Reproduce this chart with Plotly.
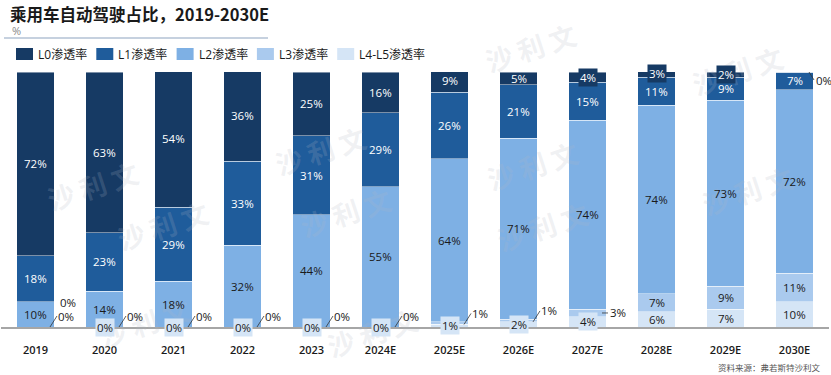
import plotly.graph_objects as go

years = ["2019", "2020", "2021", "2022", "2023", "2024E", "2025E", "2026E", "2027E", "2028E", "2029E", "2030E"]
l0 = [72, 63, 54, 36, 25, 16, 9, 5, 4, 3, 2, 0]
l1 = [18, 23, 29, 33, 31, 29, 26, 21, 15, 11, 9, 7]
l2 = [10, 14, 18, 32, 44, 55, 64, 71, 74, 74, 73, 72]
l3 = [0, 0, 0, 0, 0, 0, 1, 1, 3, 7, 9, 11]
l4 = [0, 0, 0, 0, 0, 0, 1, 2, 4, 6, 7, 10]
names = ["L0渗透率", "L1渗透率", "L2渗透率", "L3渗透率", "L4-L5渗透率"]
title_text = "乘用车自动驾驶占比，2019-2030E"
unit_text = "%"
source_text = "资料来源：弗若斯特沙利文"
watermark_text = "沙 利 文"

colors = ["#163A64", "#1F5C9B", "#7EB0E4", "#AACAEE", "#D5E5F6"]
FONT = "Open Sans, Noto Sans CJK SC, sans-serif"
DARK = "#1A1A1A"

series = [l0, l1, l2, l3, l4]
fig = go.Figure()
# stack bottom-up: L4, L3, L2, L1, L0
for k in [4, 3, 2, 1, 0]:
    fig.add_trace(go.Bar(
        x=years, y=series[k], name=names[k], showlegend=False,
        marker=dict(color=colors[k], line=dict(color="rgba(255,255,255,0.55)", width=0.8)),
        hoverinfo="skip",
    ))

# cumulative bases
bases = {}
for i in range(len(years)):
    b = 0
    for k in [4, 3, 2, 1, 0]:
        bases[(k, i)] = b
        b += series[k][i]

ann = []
shapes = []
LBL = 11.5
TIP = 14.5

W, H = 831, 375
L, R, T, B = 1, 2, 72, 48
pw, ph = W - L - R, H - T - B


def px(x):
    return (x - L) / pw


def py(y):
    return (H - B - y) / ph


# faint watermarks (decoration)
for (wx, wy) in [(530, 12), (790, 35), (40, 150), (320, 115), (110, 225), (345, 248), (585, 130),
                 (595, 262), (800, 155), (92, 358), (372, 368)]:
    ann.append(dict(xref="paper", yref="paper", x=px(wx), y=py(wy), text=watermark_text, showarrow=False,
                    textangle=-18, font=dict(family="Noto Sans CJK SC", size=27, color="rgba(175,182,196,0.2)",
                                             weight="bold")))

# legend (drawn manually to match the swatch spacing)
for k, nm in enumerate(names):
    x0 = 16 + 80.3 * k
    shapes.append(dict(type="rect", xref="paper", yref="paper", x0=px(x0), x1=px(x0 + 17),
                       y0=py(60), y1=py(48), fillcolor=colors[k], line=dict(width=0)))
    ann.append(dict(xref="paper", yref="paper", x=px(x0 + 20), y=py(54), text=nm, showarrow=False,
                    xanchor="left", yanchor="middle", font=dict(family=FONT, size=12, color="#1A1A1A")))


def inside(i, k, color, bg=None):
    v = series[k][i]
    d = dict(x=i, y=bases[(k, i)] + v / 2, text=f"{v}%", showarrow=False,
             font=dict(family=FONT, size=LBL, color=color), xanchor="center", yanchor="middle")
    if bg:
        d.update(bgcolor=bg, borderpad=1)
    ann.append(d)


for i in range(len(years)):
    # L0
    v = l0[i]
    if v >= 5:
        inside(i, 0, "white")
    elif v > 0:
        inside(i, 0, "white", bg=colors[0])
    else:
        ann.append(dict(x=i, y=bases[(0, i)], xshift=TIP, text=f"{v}%", showarrow=True,
                        arrowhead=0, arrowwidth=0.8, arrowcolor="#333", ax=5, ay=8, xanchor="left",
                        font=dict(family=FONT, size=LBL, color=DARK)))
    # L1, L2
    inside(i, 1, "white")
    inside(i, 2, DARK)
    # L3
    v = l3[i]
    if v >= 5:
        inside(i, 3, DARK)
    elif v >= 3:
        ann.append(dict(x=i, y=bases[(3, i)] + v / 2, xshift=TIP, text=f"{v}%", showarrow=True,
                        arrowhead=0, arrowwidth=0.8, arrowcolor="#333", ax=6, ay=0, xanchor="left",
                        font=dict(family=FONT, size=LBL, color=DARK)))
    else:
        ann.append(dict(x=i, y=bases[(3, i)], xshift=TIP, text=f"{v}%", showarrow=True,
                        arrowhead=0, arrowwidth=0.8, arrowcolor="#333", ax=7, ay=-11, xanchor="left",
                        borderpad=0, font=dict(family=FONT, size=LBL, color=DARK)))
    # L4
    v = l4[i]
    if v >= 5:
        inside(i, 4, DARK)
    elif i == 0:
        ann.append(dict(x=i, y=bases[(4, i)], xshift=TIP + 8, yshift=25, text=f"{v}%",
                        showarrow=False, xanchor="left",
                        font=dict(family=FONT, size=LBL, color=DARK)))
    else:
        inside(i, 4, DARK, bg=colors[4])

ann.append(dict(xref="paper", yref="paper", x=px(10), y=py(31), text=unit_text, showarrow=False,
                xanchor="left", yanchor="middle", font=dict(family=FONT, size=11, color="#888888")))
ann.append(dict(xref="paper", yref="paper", x=px(823), y=py(367), text=source_text, showarrow=False,
                xanchor="right", yanchor="middle", font=dict(family="Noto Sans CJK SC", size=8.5, color="#555555")))

shapes.append(dict(type="line", xref="paper", yref="paper", x0=px(4), x1=px(268), y0=py(38), y1=py(38),
                   line=dict(color="#8DA3BF", width=1)))

fig.update_layout(
    width=W, height=H,
    margin=dict(l=L, r=R, t=T, b=B, autoexpand=False),
    paper_bgcolor="white", plot_bgcolor="white",
    barmode="stack", bargap=0.46,
    title=dict(text=title_text, x=10 / W, xref="container", xanchor="left", y=1 - 15 / H, yref="container",
               yanchor="middle", font=dict(family="Noto Sans CJK SC", size=16.5, color="#1A1A1A", weight="bold")),
    showlegend=False,
    xaxis=dict(type="category", range=[-0.5, len(years) - 0.5], showline=True, linecolor="#A6A6A6",
               linewidth=1.5, ticks="", showgrid=False,
               tickfont=dict(family=FONT, size=11, color="#1A1A1A", weight=600), ticklabelstandoff=12),
    yaxis=dict(range=[0, 100], visible=False, showgrid=False, zeroline=False),
    annotations=ann,
    shapes=shapes,
)

fig.write_html("out.html", config={"displayModeBar": False},
               post_script="document.body.style.margin='0';")
